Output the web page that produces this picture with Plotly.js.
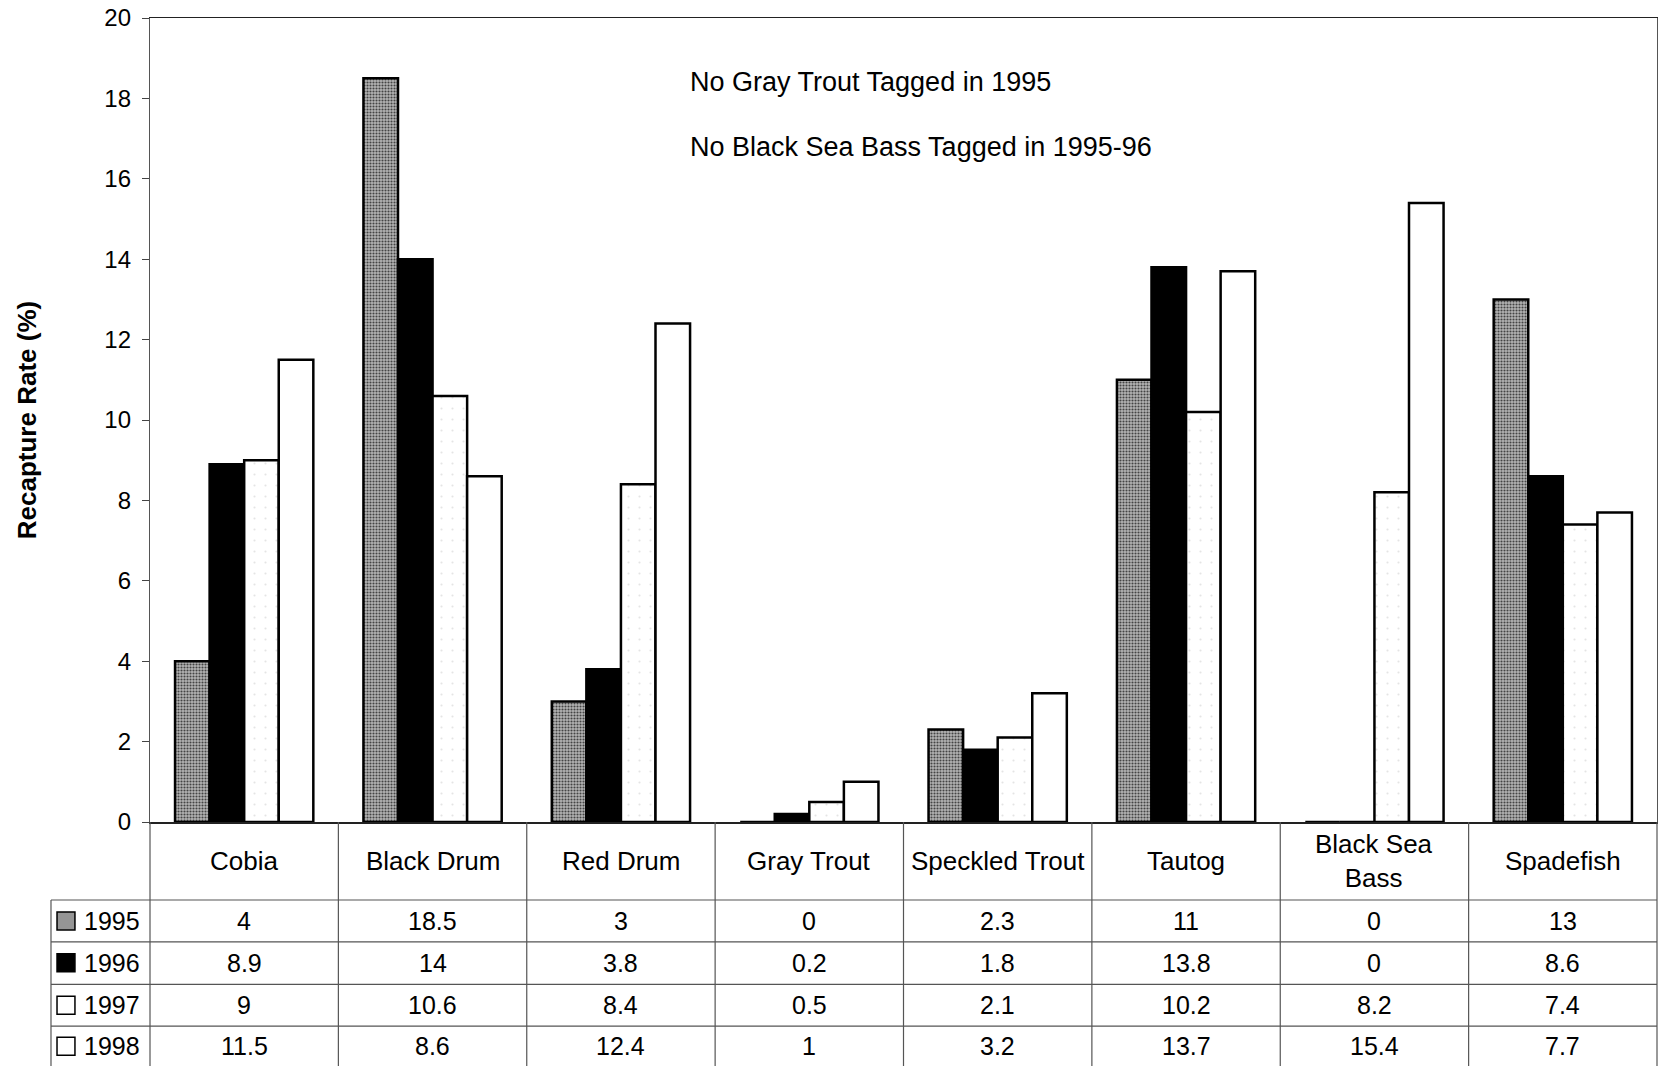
<!DOCTYPE html>
<html>
<head>
<meta charset="utf-8">
<script src="https://cdn.plot.ly/plotly-3.0.1.min.js"></script>
<style>
  html, body { margin: 0; padding: 0; background: #fff; }
  #chart { width: 1658px; height: 1066px; }
</style>
</head>
<body>
<div id="chart"></div>
<script>
// ---- data ----
const categories = ['Cobia', 'Black Drum', 'Red Drum', 'Gray Trout', 'Speckled Trout', 'Tautog', 'Black Sea Bass', 'Spadefish'];
const categoryLabels = ['Cobia', 'Black Drum', 'Red Drum', 'Gray Trout', 'Speckled Trout', 'Tautog', 'Black Sea<br>Bass', 'Spadefish'];
const years = ['1995', '1996', '1997', '1998'];
const rate1995 = [4, 18.5, 3, 0, 2.3, 11, 0, 13];
const rate1996 = [8.9, 14, 3.8, 0.2, 1.8, 13.8, 0, 8.6];
const rate1997 = [9, 10.6, 8.4, 0.5, 2.1, 10.2, 8.2, 7.4];
const rate1998 = [11.5, 8.6, 12.4, 1, 3.2, 13.7, 15.4, 7.7];
const yTickVals = [0, 2, 4, 6, 8, 10, 12, 14, 16, 18, 20];
const notes = ['No Gray Trout Tagged in 1995', 'No Black Sea Bass Tagged in 1995-96'];
const yTitle = 'Recapture Rate (%)';

// ---- styles ----
const FONT = '"Liberation Sans", Arial, Helvetica, sans-serif';
const series = [rate1995, rate1996, rate1997, rate1998];
const styles = [
  { color: '#a0a0a0', pattern: { shape: '.', bgcolor: '#b4b4b4', fgcolor: '#444444', size: 3, solidity: 0.4 } },
  { color: '#000000' },
  { color: '#ffffff', pattern: { shape: '.', bgcolor: '#ffffff', fgcolor: '#e4e4e4', size: 11, solidity: 0.03 } },
  { color: '#ffffff' }
];
const legendFill = ['#959595', '#000000', '#ffffff', '#ffffff'];

const traces = series.map((vals, k) => ({
  type: 'bar',
  name: years[k],
  x: categories,
  y: vals,
  marker: Object.assign({ line: { color: '#000', width: 2.5 } }, styles[k]),
  showlegend: false,
  hoverinfo: 'x+y+name'
}));

// table geometry (paper coords, below the plot)
const catRowY = -0.0485;
const rowLines = [-0.097, -0.149, -0.202, -0.254];
const rowCenters = [-0.123, -0.175, -0.228, -0.279];
const tableBottom = -0.305;
const tableLeft = -0.0657;

const shapes = [];
const annotations = [];
const lineStyle = { color: '#555', width: 1.2 };

// vertical dividers between categories
for (let i = 0; i < categories.length - 1; i++) {
  shapes.push({ type: 'line', xref: 'x', yref: 'paper', x0: i + 0.5, x1: i + 0.5, y0: 0, y1: tableBottom, line: lineStyle });
}
// left axis extension and right border
shapes.push({ type: 'line', xref: 'paper', yref: 'paper', x0: 0, x1: 0, y0: 0, y1: tableBottom, line: lineStyle });
shapes.push({ type: 'line', xref: 'paper', yref: 'paper', x0: 1, x1: 1, y0: 0, y1: tableBottom, line: lineStyle });
// table left border
shapes.push({ type: 'line', xref: 'paper', yref: 'paper', x0: tableLeft, x1: tableLeft, y0: rowLines[0], y1: tableBottom, line: lineStyle });
// horizontal row lines
rowLines.forEach(y => {
  shapes.push({ type: 'line', xref: 'paper', yref: 'paper', x0: tableLeft, x1: 1, y0: y, y1: y, line: lineStyle });
});
// legend keys
const keyHalfH = 0.0112;
rowCenters.forEach((y, k) => {
  shapes.push({ type: 'rect', xref: 'paper', yref: 'paper', x0: -0.0617, x1: -0.0498, y0: y - keyHalfH, y1: y + keyHalfH,
    fillcolor: legendFill[k], line: { color: '#000', width: 1.5 } });
  annotations.push({ xref: 'paper', yref: 'paper', x: -0.0451, y: y, text: years[k], showarrow: false,
    xanchor: 'left', yanchor: 'middle', font: { family: FONT, size: 25, color: '#000' } });
});

// category labels
categories.forEach((c, i) => {
  annotations.push({ xref: 'x', yref: 'paper', x: c, y: catRowY, text: categoryLabels[i], showarrow: false,
    xanchor: 'center', yanchor: 'middle', font: { family: FONT, size: 26, color: '#000' } });
});
// table values
series.forEach((vals, k) => {
  vals.forEach((v, i) => {
    annotations.push({ xref: 'x', yref: 'paper', x: categories[i], y: rowCenters[k], text: String(v), showarrow: false,
      xanchor: 'center', yanchor: 'middle', font: { family: FONT, size: 25, color: '#000' } });
  });
});
// notes
annotations.push({ xref: 'paper', yref: 'y', x: 0.357, y: 18.4, text: notes[0], showarrow: false, xanchor: 'left', yanchor: 'middle',
  font: { family: FONT, size: 27, color: '#000' } });
annotations.push({ xref: 'paper', yref: 'y', x: 0.357, y: 16.8, text: notes[1], showarrow: false, xanchor: 'left', yanchor: 'middle',
  font: { family: FONT, size: 27, color: '#000' } });

const layout = {
  width: 1658,
  height: 1066,
  margin: { l: 150, r: 1, t: 18, b: 244, pad: 0 },
  paper_bgcolor: '#fff',
  plot_bgcolor: '#fff',
  font: { family: FONT, size: 24, color: '#000' },
  barmode: 'group',
  bargap: 0.266,
  bargroupgap: 0,
  showlegend: false,
  xaxis: {
    type: 'category',
    range: [-0.5, 7.5],
    showticklabels: false,
    ticks: '',
    showgrid: false,
    zeroline: false,
    showline: true,
    linecolor: '#222',
    linewidth: 1.5,
    mirror: true,
    fixedrange: true
  },
  yaxis: {
    range: [0, 20],
    tickvals: yTickVals,
    ticktext: yTickVals.map(String),
    ticks: 'outside',
    ticklen: 7,
    tickwidth: 1,
    tickcolor: '#444',
    ticklabelstandoff: 6,
    tickfont: { family: FONT, size: 24, color: '#000' },
    showgrid: false,
    zeroline: false,
    showline: true,
    linecolor: '#555',
    linewidth: 1.2,
    mirror: true,
    title: { text: yTitle, font: { family: FONT, size: 26, color: '#000', weight: 'bold' }, standoff: 60 },
    automargin: false,
    fixedrange: true
  },
  shapes: shapes,
  annotations: annotations
};

Plotly.newPlot('chart', traces, layout, { displayModeBar: false, staticPlot: true });
</script>
</body>
</html>
